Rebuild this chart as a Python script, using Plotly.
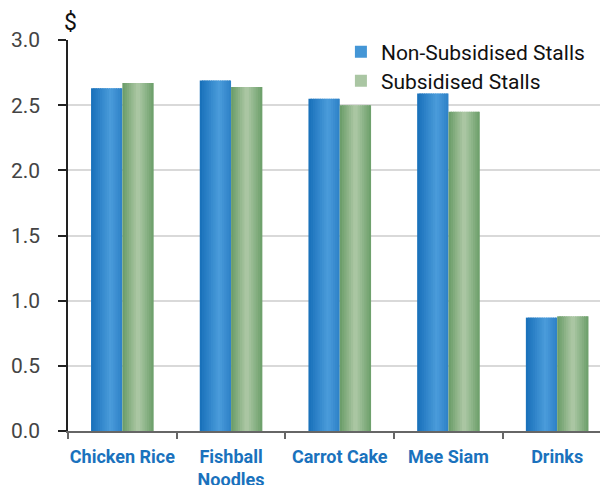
import plotly.graph_objects as go

categories = ["Chicken Rice", "Fishball<br>Noodles", "Carrot Cake", "Mee Siam", "Drinks"]
non_subsidised = [2.63, 2.69, 2.55, 2.59, 0.87]
subsidised = [2.67, 2.64, 2.50, 2.45, 0.88]
series_names = ["Non-Subsidised Stalls", "Subsidised Stalls"]
y_ticks = [0.0, 0.5, 1.0, 1.5, 2.0, 2.5, 3.0]


def hex2rgb(h):
    h = h.lstrip("#")
    return tuple(int(h[i:i + 2], 16) for i in (0, 2, 4))


def grad(stops, t):
    for (t0, c0), (t1, c1) in zip(stops, stops[1:]):
        if t0 <= t <= t1:
            f = (t - t0) / (t1 - t0) if t1 > t0 else 0
            a, b = hex2rgb(c0), hex2rgb(c1)
            return "rgb(%d,%d,%d)" % tuple(round(a[i] + (b[i] - a[i]) * f) for i in range(3))
    return stops[-1][1]


blue_stops = [(0, "#176fb9"), (0.62, "#4b9cdb"), (1, "#2d80c6")]
green_stops = [(0, "#689b66"), (0.5, "#afc9a7"), (1, "#6a9e69")]

bar_w = 0.288
N = 14
fig = go.Figure()
for si, (vals, stops, base, leg) in enumerate([
    (non_subsidised, blue_stops, -bar_w, "legend"),
    (subsidised, green_stops, 0.0, "legend2"),
]):
    sw = bar_w / N
    for k in range(N):
        t = (k + 0.5) / N
        w = sw * (1.6 if k < N - 1 else 1.0)
        fig.add_trace(go.Bar(
            x=categories, y=vals,
            width=w, offset=base + k * sw,
            marker=dict(color=grad(stops, t), line=dict(width=0)),
            name=series_names[si],
            legendgroup=series_names[si],
            showlegend=(k == N // 2),
            legend=leg,
            hoverinfo="skip",
        ))

fig.update_layout(
    width=600, height=485,
    margin=dict(l=68, r=0, t=40, b=54, autoexpand=False),
    barmode="overlay",
    plot_bgcolor="white", paper_bgcolor="white",
    font=dict(family="Roboto", color="#333"),
    legend=dict(x=0.513, y=0.969, xanchor="left", yanchor="middle",
                bgcolor="rgba(0,0,0,0)", font=dict(size=21, color="#111"),
                itemwidth=30),
    legend2=dict(x=0.513, y=0.895, xanchor="left", yanchor="middle",
                 bgcolor="rgba(0,0,0,0)", font=dict(size=21, color="#111"),
                 itemwidth=30),
    annotations=[dict(text="$", xref="paper", yref="paper", x=-0.011, y=1.045,
                      xanchor="left", yanchor="middle", showarrow=False,
                      font=dict(size=23, color="#111"))],
)
fig.update_yaxes(range=[0, 3.0], tickvals=y_ticks, tickformat=".1f",
                 showgrid=True, gridcolor="#d9d9d9", gridwidth=1.5,
                 showline=True, linecolor="#222", linewidth=1.5,
                 ticks="outside", ticklen=8, tickcolor="#222", tickwidth=1.5,
                 ticklabelstandoff=14, automargin=False,
                 tickfont=dict(size=21, color="#444"), zeroline=False)
fig.update_xaxes(range=[-0.5, 4.394], showline=True, linecolor="#666", linewidth=2,
                 ticks="outside", tickson="boundaries", ticklen=6, tickcolor="#666",
                 tickwidth=1.5, showgrid=False, ticklabelstandoff=8, tickangle=0,
                 automargin=False,
                 tickfont=dict(size=18, color="#1a72bd", family="Roboto", weight="bold"))

fig.write_html("out.html")
